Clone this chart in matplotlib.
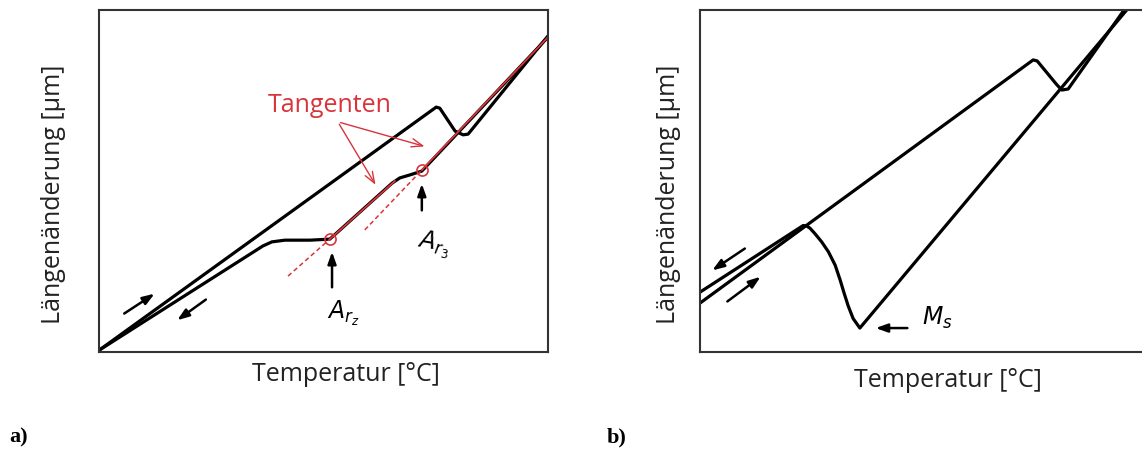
import matplotlib.pyplot as plt

plt.rcParams['font.family'] = ['Open Sans', 'DejaVu Sans']

# panel a) - dilatometer curve with tangents (arbitrary units 0..100)
heat_a_x = [0, 75.1, 75.9, 79.3, 81.1, 82.2, 99.8]
heat_a_y = [0.5, 71.6, 71.3, 64.6, 63.5, 63.7, 92.1]
cool_a_x = [99.8, 71.9, 69.3, 67.0, 65.3, 51.4, 47.0, 41.4, 38.5, 36.5, 0]
cool_a_y = [91.8, 52.9, 51.8, 50.9, 49.4, 33.0, 32.7, 32.7, 32.2, 31.0, 0.5]

tan1_solid_x = [51.4, 65.9]
tan1_solid_y = [33.0, 50.0]
tan1_dash_x = [42.1, 51.4]
tan1_dash_y = [22.2, 33.0]
tan2_solid_x = [71.9, 99.8]
tan2_solid_y = [53.2, 91.8]
tan2_dash_x = [59.2, 71.9]
tan2_dash_y = [35.7, 53.2]

ar1 = (51.4, 33.0)
ar3 = (71.9, 53.2)

# panel b) - martensite formation
heat_b_x = [0, 74.2, 75.1, 79.5, 80.6, 82.0, 95.1]
heat_b_y = [14.3, 85.4, 85.1, 78.1, 76.6, 76.9, 101.2]
cool_b_x = [95.8, 35.6, 34.1, 33.0, 32.1, 31.2, 30.1, 28.6, 27.1, 25.6, 24.5, 23.8, 23.0, 0]
cool_b_y = [101.2, 7.0, 9.8, 13.5, 17.2, 21.1, 25.4, 29.3, 32.2, 34.6, 36.2, 36.8, 37.0, 17.5]

red = '#d8343c'
W, H = 1142, 454
fig = plt.figure(figsize=(W / 100, H / 100), dpi=100)
ax1 = fig.add_axes([99 / W, 102 / H, 449 / W, 342 / H])
ax2 = fig.add_axes([700 / W, 102 / H, 449 / W, 342 / H])

for ax in (ax1, ax2):
    ax.set_xlim(0, 100)
    ax.set_ylim(0, 100)
    ax.set_xticks([])
    ax.set_yticks([])
    for s in ax.spines.values():
        s.set_color('#333333')
        s.set_linewidth(1.5)
    ax.set_xlabel('Temperatur [°C]', fontsize=18, color='#222222')
    ax.set_ylabel('Längenänderung [µm]', fontsize=18, color='#222222')

ax1.xaxis.set_label_coords(0.55, -0.067)
ax1.yaxis.set_label_coords(-0.102, 0.462)
ax2.xaxis.set_label_coords(0.552, -0.082)
ax2.yaxis.set_label_coords(-0.071, 0.462)
for ax in (ax1, ax2):
    ax.xaxis.label.set_va('center')
    ax.yaxis.label.set_va('center')

# --- panel a
ax1.plot(heat_a_x, heat_a_y, color='black', lw=2.3, solid_joinstyle='round')
ax1.plot(cool_a_x, cool_a_y, color='black', lw=2.3, solid_joinstyle='round')
ax1.plot(tan1_solid_x, tan1_solid_y, color=red, lw=1.3)
ax1.plot(tan2_solid_x, tan2_solid_y, color=red, lw=1.3)
ax1.plot(tan1_dash_x, tan1_dash_y, color=red, lw=1.1, ls=(0, (3, 2)))
ax1.plot(tan2_dash_x, tan2_dash_y, color=red, lw=1.1, ls=(0, (3, 2)))
ax1.plot(*ar1, 'o', ms=8, mfc='none', mec=red, mew=1.2)
ax1.plot(*ar3, 'o', ms=8, mfc='none', mec=red, mew=1.2)

blk = dict(arrowstyle='-|>,head_length=0.7,head_width=0.25', color='black', lw=1.8)
ax1.annotate('', xy=(51.9, 30.1), xytext=(51.9, 18.1), arrowprops=blk)
ax1.annotate('', xy=(71.9, 50.0), xytext=(71.9, 40.6), arrowprops=blk)
ax1.annotate('', xy=(12.9, 17.5), xytext=(5.1, 10.8), arrowprops=blk)
ax1.annotate('', xy=(16.9, 8.8), xytext=(24.3, 15.8), arrowprops=blk)
ax1.text(54.3, 11.4, r'$\mathit{A_{r_z}}$', fontsize=17, ha='center', va='center')
ax1.text(74.5, 31.5, r'$\mathit{A_{r_3}}$', fontsize=17, ha='center', va='center', rotation=-10)

ax1.text(51.4, 72.2, 'Tangenten', color=red, fontsize=18, ha='center', va='center')
rarr = dict(arrowstyle='->,head_length=0.8,head_width=0.3', color=red, lw=1.0)
ax1.annotate('', xy=(73.1, 59.9), xytext=(53.2, 67.3), arrowprops=rarr)
ax1.annotate('', xy=(61.9, 48.2), xytext=(53.2, 67.3), arrowprops=rarr)

# --- panel b
ax2.plot(heat_b_x, heat_b_y, color='black', lw=2.3, solid_joinstyle='round')
ax2.plot(cool_b_x, cool_b_y, color='black', lw=2.3, solid_joinstyle='round')
ax2.annotate('', xy=(2.2, 23.4), xytext=(10.5, 30.7), arrowprops=blk)
ax2.annotate('', xy=(14.0, 22.5), xytext=(5.6, 14.3), arrowprops=blk)
ax2.annotate('', xy=(38.5, 7.0), xytext=(46.8, 7.0), arrowprops=blk)
ax2.text(49.4, 9.9, r'$\mathit{M_s}$', fontsize=17, ha='left', va='center')

fig.text(9 / W, 1 - 437 / H, 'a)', fontsize=16, fontweight='bold',
         family='Liberation Serif', va='center')
fig.text(607 / W, 1 - 437 / H, 'b)', fontsize=16, fontweight='bold',
         family='Liberation Serif', va='center')

fig.savefig('out.png', dpi=100)
